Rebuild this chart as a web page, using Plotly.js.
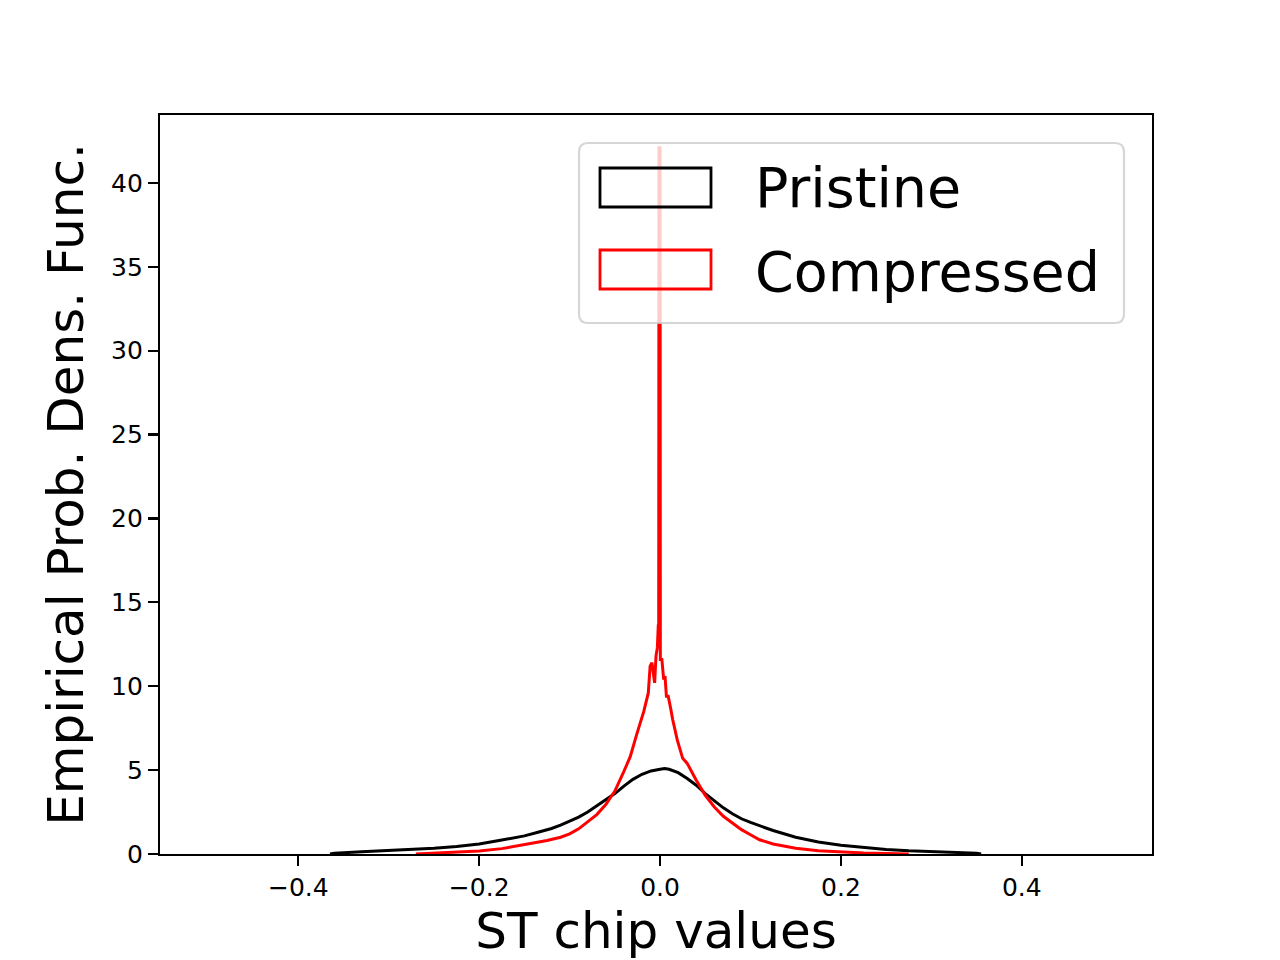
<!DOCTYPE html>
<html>
<head>
<meta charset="utf-8">
<script src="https://cdn.plot.ly/plotly-3.0.1.min.js"></script>
<style>html,body{margin:0;padding:0;background:#fff;}#chart{width:1280px;height:960px;}</style>
</head>
<body>
<div id="chart"></div>
<script>
// Pristine histogram
const pristineX = [-0.365,-0.36,-0.33,-0.3,-0.275,-0.25,-0.225,-0.2,-0.175,-0.15,-0.135,-0.12,-0.11,-0.1,-0.09,-0.08,-0.07,-0.06,-0.05,-0.04,-0.03,-0.02,-0.01,0,0.005,0.01,0.02,0.03,0.04,0.05,0.06,0.07,0.08,0.09,0.1,0.11,0.125,0.15,0.175,0.2,0.225,0.25,0.275,0.3,0.33,0.35,0.355];
const pristineY = [0,0.05,0.13,0.2,0.27,0.34,0.45,0.6,0.83,1.08,1.3,1.52,1.72,1.95,2.2,2.5,2.85,3.2,3.6,4.05,4.45,4.75,4.95,5.05,5.1,5.05,4.85,4.5,4.1,3.6,3.15,2.75,2.4,2.1,1.88,1.7,1.4,1.0,0.72,0.52,0.38,0.27,0.19,0.15,0.1,0.05,0];
// Compressed histogram
const compressedX = [-0.27,-0.26,-0.25,-0.225,-0.2,-0.175,-0.15,-0.125,-0.11,-0.1,-0.09,-0.08,-0.07,-0.06,-0.05,-0.041,-0.033,-0.026,-0.018,-0.013,-0.011,-0.009,-0.006,-0.0045,-0.003,-0.002,-0.0015,-0.0012,0.0,0.0003,0.002,0.004,0.0055,0.007,0.009,0.012,0.014,0.019,0.025,0.03,0.04,0.05,0.06,0.07,0.08,0.09,0.1,0.11,0.125,0.15,0.175,0.2,0.225,0.25,0.27,0.275];
const compressedY = [0,0.03,0.06,0.1,0.18,0.32,0.54,0.8,1.0,1.2,1.5,1.9,2.35,2.95,3.75,4.8,5.8,7.1,8.5,9.6,11.2,11.4,10.2,11.8,12.3,13.6,13.6,42.1,42.1,11.6,11.6,10.4,10.6,9.4,9.4,8.6,8.0,6.8,5.7,5.4,4.4,3.5,2.8,2.25,1.85,1.45,1.15,0.85,0.6,0.34,0.2,0.12,0.06,0.03,0.01,0];

const seriesNames = ["Pristine", "Compressed"];
const seriesColors = ["#000000", "#ff0000"];
const xTickVals = [-0.4, -0.2, 0.0, 0.2, 0.4];
const xTickText = ["\u22120.4", "\u22120.2", "0.0", "0.2", "0.4"];
const yTickVals = [0, 5, 10, 15, 20, 25, 30, 35, 40];

const FONT = "DejaVu Sans, sans-serif";
const plotL = 160, plotR = 1152, plotT = 115, plotB = 854;
const px = v => (v - plotL) / (plotR - plotL);
const py = v => (plotB - v) / (plotB - plotT);

function roundRect(x0, y0, x1, y1, r) {
  const rx = r / (plotR - plotL), ry = r / (plotB - plotT);
  const X0 = px(x0), X1 = px(x1), Y0 = py(y1), Y1 = py(y0);
  return `M ${X0+rx},${Y0} L ${X1-rx},${Y0} Q ${X1},${Y0} ${X1},${Y0+ry} L ${X1},${Y1-ry} Q ${X1},${Y1} ${X1-rx},${Y1} L ${X0+rx},${Y1} Q ${X0},${Y1} ${X0},${Y1-ry} L ${X0},${Y0+ry} Q ${X0},${Y0} ${X0+rx},${Y0} Z`;
}

const traces = [
  {x: pristineX, y: pristineY, type: "scatter", mode: "lines", name: seriesNames[0],
   line: {color: seriesColors[0], width: 3, shape: "linear"}, showlegend: false},
  {x: compressedX, y: compressedY, type: "scatter", mode: "lines", name: seriesNames[1],
   line: {color: seriesColors[1], width: 3, shape: "linear"}, showlegend: false}
];

const shapes = [
  {type: "path", xref: "paper", yref: "paper", path: roundRect(579, 143, 1124, 323, 9),
   fillcolor: "rgba(255,255,255,0.8)", line: {color: "rgba(204,204,204,0.8)", width: 2.2}, layer: "above"},
  {type: "rect", xref: "paper", yref: "paper", x0: px(600), x1: px(711), y0: py(207), y1: py(168),
   fillcolor: "rgba(0,0,0,0)", line: {color: seriesColors[0], width: 2.8}, layer: "above"},
  {type: "rect", xref: "paper", yref: "paper", x0: px(600), x1: px(711), y0: py(289), y1: py(250),
   fillcolor: "rgba(0,0,0,0)", line: {color: seriesColors[1], width: 2.8}, layer: "above"}
];

const annotations = [
  {xref: "paper", yref: "paper", x: px(753), y: py(188), xanchor: "left", yanchor: "middle",
   text: seriesNames[0], showarrow: false, font: {family: FONT, size: 55.5, color: "#000"}},
  {xref: "paper", yref: "paper", x: px(753), y: py(271), xanchor: "left", yanchor: "middle",
   text: seriesNames[1], showarrow: false, font: {family: FONT, size: 55.5, color: "#000"}}
];

const layout = {
  width: 1280, height: 960, autosize: false,
  paper_bgcolor: "#ffffff", plot_bgcolor: "#ffffff",
  margin: {l: plotL, r: 1280 - plotR, t: plotT, b: 960 - plotB, pad: 0},
  font: {family: FONT, color: "#000"},
  showlegend: false,
  xaxis: {
    range: [-0.553, 0.544], tickmode: "array", tickvals: xTickVals, ticktext: xTickText,
    showgrid: false, zeroline: false, showline: true, linecolor: "#000", linewidth: 2.2, mirror: true,
    ticks: "outside", ticklen: 10, tickwidth: 2.2, tickcolor: "#000",
    tickfont: {family: FONT, size: 25, color: "#000"},
    title: {text: "ST chip values", font: {family: FONT, size: 50, color: "#000"}, standoff: 20}
  },
  yaxis: {
    range: [0, 44.05], tickmode: "array", tickvals: yTickVals,
    showgrid: false, zeroline: false, showline: true, linecolor: "#000", linewidth: 2.2, mirror: true,
    ticks: "outside", ticklen: 10, tickwidth: 2.2, tickcolor: "#000",
    tickfont: {family: FONT, size: 25, color: "#000"},
    title: {text: "Empirical Prob. Dens. Func.", font: {family: FONT, size: 50, color: "#000"}, standoff: 12}
  },
  shapes: shapes,
  annotations: annotations
};

Plotly.newPlot("chart", traces, layout, {displayModeBar: false, staticPlot: true});
</script>
</body>
</html>
